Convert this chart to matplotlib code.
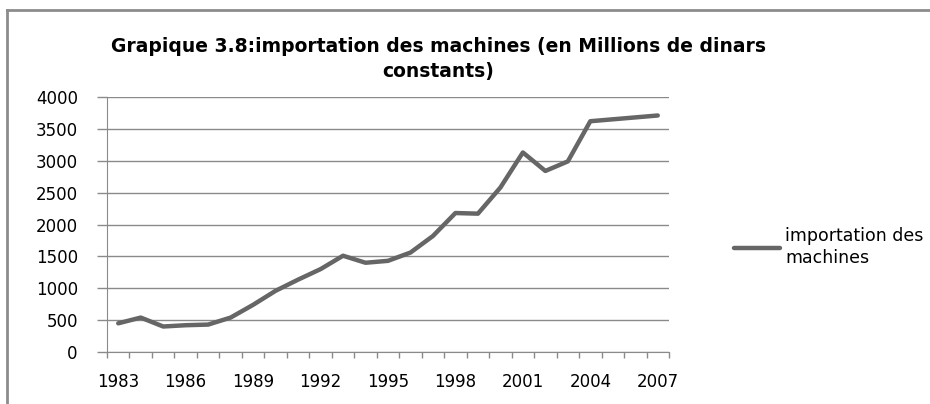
import matplotlib
matplotlib.use("Agg")
import matplotlib.pyplot as plt
from matplotlib.lines import Line2D

years = list(range(1983, 2008))
imports = [450, 540, 400, 420, 430, 540, 740, 960, 1135, 1300, 1510, 1400, 1430,
           1560, 1820, 2180, 2170, 2580, 3130, 2840, 2990, 3620, 3650, 3680, 3710]
series_name = "importation des\nmachines"
title = "Grapique 3.8:importation des machines (en Millions de dinars\nconstants)"
yticks = [0, 500, 1000, 1500, 2000, 2500, 3000, 3500, 4000]
label_years = years[::3]

fig = plt.figure(figsize=(9.3, 4.04), dpi=100)
ax = fig.add_axes([107/930, 1-352/404, (669-107)/930, (352-97)/404])

x = list(range(len(years)))
line, = ax.plot(x, imports, color="#666666", lw=3.2, solid_capstyle="round",
                solid_joinstyle="round")

ax.set_xlim(-0.5, len(years) - 0.5)
ax.set_ylim(0, 4000)
ax.set_yticks(yticks)
ax.set_yticklabels([str(v) for v in yticks])
ax.yaxis.grid(True, color="#8a8a8a", lw=1.0)
ax.set_axisbelow(True)

# major ticks between categories (tick marks only), minor ticks for labels
ax.set_xticks([i - 0.5 for i in range(len(years) + 1)])
ax.set_xticklabels([])
ax.set_xticks([years.index(y) for y in label_years], minor=True)
ax.set_xticklabels([str(y) for y in label_years], minor=True)
ax.tick_params(axis="x", which="major", direction="out", length=4, color="#8a8a8a", width=1)
ax.tick_params(axis="x", which="minor", length=0, pad=15, labelsize=12)
ax.tick_params(axis="y", direction="out", length=7, color="#8a8a8a", width=1,
               pad=14, labelsize=12)

for s in ["top", "right"]:
    ax.spines[s].set_visible(False)
ax.spines["left"].set_color("#8a8a8a")
ax.spines["bottom"].set_color("#8a8a8a")

fig.text(438/930, 1-59/404, title, ha="center", va="center", fontsize=13.5,
         fontweight="bold", linespacing=1.4, family="DejaVu Sans")

leg = fig.legend([line], [series_name], loc="center left",
                 bbox_to_anchor=(734/930, 1-247/404), frameon=False,
                 fontsize=12.5, handlelength=2.65, handletextpad=0.3,
                 borderaxespad=0, borderpad=0)
for t in leg.get_texts():
    t.set_linespacing(1.35)

# chart frame
fig.add_artist(Line2D([7/930, 7/930], [0, 1-10/404], transform=fig.transFigure,
                      color="#8c8c8c", lw=2))
fig.add_artist(Line2D([7/930, 1], [1-10/404, 1-10/404], transform=fig.transFigure,
                      color="#8c8c8c", lw=2))

fig.savefig("out.png", dpi=100)
